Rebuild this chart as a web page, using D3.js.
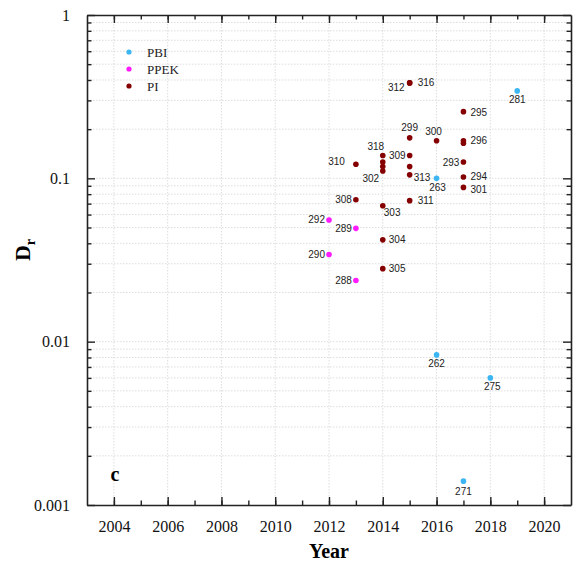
<!DOCTYPE html>
<html>
<head>
	<meta charset='utf-8'>
	<style>
		body { margin: 0; background: #fff; }
		svg { display: block; }
		.grid line { stroke: #d4d4d4; stroke-dasharray: 1.5, 1.5; stroke-width: 0.8; }
		.axis path, .axis line { stroke: #222; }
		.axis path { stroke-width: 1.6; }
		.axis text { font-family: 'Liberation Serif', 'Times New Roman', serif; font-size: 16px; fill: #111; }
		.lbl { font-family: 'Liberation Sans', Arial, sans-serif; font-size: 10px; fill: #222; }
	</style>
</head>
<body>
	<svg></svg>
	<script src="https://d3js.org/d3.v7.min.js"></script>
	<script>
		// PBI
		var pbiYear = [2019, 2016, 2016, 2018, 2017];
		var pbiDr = [0.343, 0.1, 0.0083, 0.006, 0.0014];
		var pbiId = ['281', '263', '262', '275', '271'];
		// PPEK
		var ppekYear = [2012, 2013, 2012, 2013];
		var ppekDr = [0.0556, 0.0494, 0.0342, 0.0237];
		var ppekId = ['292', '289', '290', '288'];
		// PI
		var piYear = [2015, 2015, 2017, 2015, 2016, 2017, 2017, 2014, 2014, 2014, 2014, 2013, 2015, 2015, 2015, 2017, 2017, 2017, 2013, 2015, 2014, 2014, 2014];
		var piDr = [0.384, 0.384, 0.256, 0.177, 0.170, 0.170, 0.164, 0.138, 0.126, 0.118, 0.111, 0.122, 0.138, 0.118, 0.105, 0.126, 0.102, 0.088, 0.074, 0.073, 0.068, 0.042, 0.028];
		var piId = ['312', '316', '295', '299', '300', '296', '', '318', '', '', '302', '310', '309', '', '313', '293', '294', '301', '308', '311', '303', '304', '305'];

		var xTicks = [2004, 2006, 2008, 2010, 2012, 2014, 2016, 2018, 2020];
		var yTicks = [0.001, 0.01, 0.1, 1];
		var yTickLabels = ['0.001', '0.01', '0.1', '1'];

		// label placement: dx, dy, anchor
		var place = {
			'316': [8, 0, 'start'], '312': [-5, 5, 'end'], '295': [7, 1, 'start'], '299': [0, -10, 'middle'],
			'300': [-3, -9, 'middle'], '296': [7, 0, 'start'], '318': [-7, -9, 'middle'], '302': [-12, 8, 'middle'],
			'310': [-11, -3, 'end'], '309': [-4, 0, 'end'], '313': [4, 3, 'start'], '293': [-4, 1, 'end'],
			'294': [7, 0, 'start'], '301': [7, 2, 'start'], '308': [-4, 0, 'end'], '311': [8, 0, 'start'],
			'303': [1, 7, 'start'], '304': [6, 0, 'start'], '305': [6, 0, 'start'],
			'292': [-4, 0, 'end'], '289': [-4, 0, 'end'], '290': [-4, 0, 'end'], '288': [-4, 0, 'end'],
			'281': [0, 9, 'middle'], '263': [1, 9, 'middle'], '262': [0, 9, 'middle'], '275': [2, 9, 'middle'], '271': [0, 10, 'middle']
		};

		var W = 573, H = 565;
		var pL = 87, pR = 571, pT = 15, pB = 505;
		var svg = d3.select('svg').attr('width', W).attr('height', H);

		var x = d3.scaleLinear().domain([2003, 2021]).range([pL, pR]);
		var y = d3.scaleLog().domain([0.001, 1]).range([pB, pT]);

		var minorY = [];
		[0.001, 0.01, 0.1].forEach(function (d) { for (var k = 2; k <= 9; k++) minorY.push(d * k); });
		var minorX = d3.range(2004, 2021);

		// grid
		var grid = svg.append('g').attr('class', 'grid');
		grid.selectAll('.gx').data(xTicks).enter().append('line')
			.attr('x1', function (d) { return x(d) }).attr('x2', function (d) { return x(d) })
			.attr('y1', pT).attr('y2', pB);
		grid.selectAll('.gy').data(minorY.concat([0.01, 0.1])).enter().append('line')
			.attr('y1', function (d) { return y(d) }).attr('y2', function (d) { return y(d) })
			.attr('x1', pL).attr('x2', pR);

		// axes (ticks inward)
		function minorAxis(axis, scale, vals, tr) {
			svg.append('g').attr('class', 'axis').attr('transform', tr)
				.call(axis(scale).tickValues(vals).tickSize(-4.5).tickFormat(''))
				.select('.domain').remove();
		}
		minorAxis(d3.axisBottom, x, minorX, 'translate(0,' + pB + ')');
		minorAxis(d3.axisTop, x, minorX, 'translate(0,' + pT + ')');
		minorAxis(d3.axisLeft, y, minorY, 'translate(' + pL + ',0)');
		minorAxis(d3.axisRight, y, minorY, 'translate(' + pR + ',0)');

		svg.append('g').attr('class', 'axis').attr('transform', 'translate(0,' + pB + ')')
			.call(d3.axisBottom(x).tickValues(xTicks).tickSize(-8).tickSizeOuter(0).tickPadding(16).tickFormat(d3.format('d')));
		svg.append('g').attr('class', 'axis').attr('transform', 'translate(0,' + pT + ')')
			.call(d3.axisTop(x).tickValues(xTicks).tickSize(-8).tickSizeOuter(0).tickFormat(''));
		svg.append('g').attr('class', 'axis').attr('transform', 'translate(' + pL + ',0)')
			.call(d3.axisLeft(y).tickValues(yTicks).tickSize(-8).tickSizeOuter(0).tickPadding(17)
				.tickFormat(function (d, i) { return yTickLabels[i] }));
		svg.append('g').attr('class', 'axis').attr('transform', 'translate(' + pR + ',0)')
			.call(d3.axisRight(y).tickValues(yTicks).tickSize(-8).tickSizeOuter(0).tickFormat(''));
		svg.selectAll('.axis .tick line').attr('stroke-width', 1.4);

		// axis titles
		svg.append('text').attr('x', (pL + pR) / 2).attr('y', 558).attr('text-anchor', 'middle')
			.style('font-family', "'Liberation Serif', serif").style('font-weight', 'bold').style('font-size', '20px')
			.text('Year');
		var yt = svg.append('text').attr('transform', 'translate(30,250) rotate(-90)').attr('text-anchor', 'middle')
			.style('font-family', "'Liberation Serif', serif").style('font-weight', 'bold').style('font-size', '22px');
		yt.append('tspan').text('D');
		yt.append('tspan').attr('dy', 5).style('font-size', '14px').text('r');

		svg.append('text').attr('x', 115).attr('y', 481).attr('text-anchor', 'middle')
			.style('font-family', "'Liberation Serif', serif").style('font-weight', 'bold').style('font-size', '20px')
			.text('c');

		// series
		var series = [
			{ name: 'PBI', color: '#3cb6f2', years: pbiYear, vals: pbiDr, ids: pbiId },
			{ name: 'PPEK', color: '#ff1aff', years: ppekYear, vals: ppekDr, ids: ppekId },
			{ name: 'PI', color: '#850000', years: piYear, vals: piDr, ids: piId }
		];

		series.forEach(function (s) {
			var pts = s.years.map(function (yr, i) { return { yr: yr, v: s.vals[i], id: s.ids[i] } });
			svg.append('g').selectAll('circle').data(pts).enter().append('circle')
				.attr('cx', function (d) { return x(d.yr) }).attr('cy', function (d) { return y(d.v) })
				.attr('r', 2.8).attr('fill', s.color);
			svg.append('g').selectAll('text').data(pts.filter(function (d) { return d.id })).enter().append('text')
				.attr('class', 'lbl')
				.attr('x', function (d) { return x(d.yr) + place[d.id][0] })
				.attr('y', function (d) { return y(d.v) + place[d.id][1] })
				.attr('text-anchor', function (d) { return place[d.id][2] })
				.attr('dominant-baseline', 'central')
				.text(function (d) { return d.id });
		});

		// legend
		var lg = svg.append('g').selectAll('g').data(series).enter().append('g')
			.attr('transform', function (d, i) { return 'translate(129,' + (52 + i * 17) + ')' });
		lg.append('circle').attr('r', 2.6).attr('fill', function (d) { return d.color });
		lg.append('text').attr('x', 18).attr('dy', '0.35em')
			.style('font-family', "'Liberation Serif', serif").style('font-size', '13px').attr('fill', '#222')
			.text(function (d) { return d.name });
	</script>
</body>
</html>
